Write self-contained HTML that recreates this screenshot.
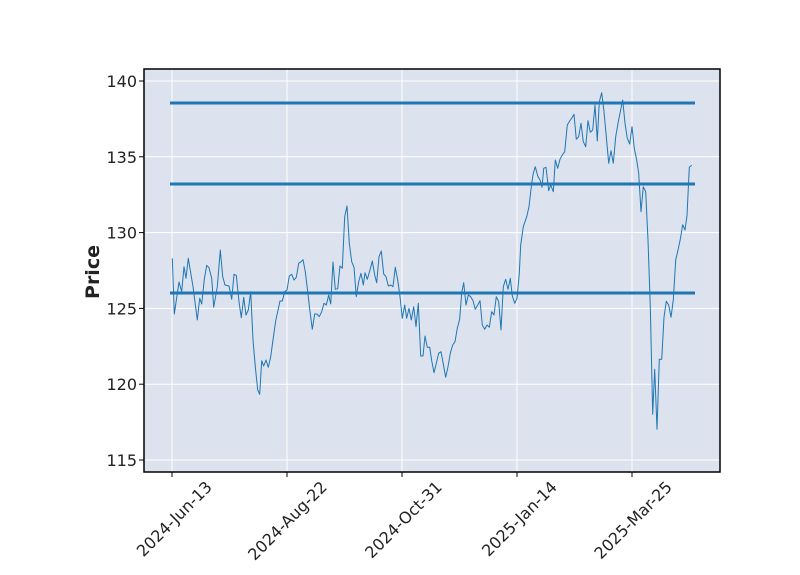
<!DOCTYPE html>
<html><head><meta charset="utf-8"><style>body{margin:0;background:#fff}svg{display:block}</style></head>
<body>
<svg width="800" height="575" xmlns="http://www.w3.org/2000/svg" font-family="DejaVu Sans, Liberation Sans, sans-serif">
<rect x="144" y="69" width="576" height="403" fill="#dce2ee"/>
<g stroke="#fff" stroke-width="1">
<line x1="172" y1="69" x2="172" y2="472"/><line x1="287" y1="69" x2="287" y2="472"/><line x1="402" y1="69" x2="402" y2="472"/><line x1="517" y1="69" x2="517" y2="472"/><line x1="632" y1="69" x2="632" y2="472"/>
<line x1="144" y1="81" x2="720" y2="81"/><line x1="144" y1="156.8" x2="720" y2="156.8"/><line x1="144" y1="232.6" x2="720" y2="232.6"/><line x1="144" y1="308.4" x2="720" y2="308.4"/><line x1="144" y1="384.2" x2="720" y2="384.2"/><line x1="144" y1="460" x2="720" y2="460"/>
</g>
<polyline fill="none" stroke="#1f77b4" stroke-width="1" stroke-linejoin="round" points="172.3,258.3 174.3,314 179,282 181.7,291.7 184,266.7 186,278.3 188.3,258.3 193,286.7 197.3,320 199.7,298.3 201.7,304 204.3,279.3 206.7,265.3 209,267.7 211.7,278.3 213.7,307.3 217.3,286.7 220.3,250 222.7,276.7 225,285 229,286 231.7,299.3 234,274.3 236.3,275.3 239,301.7 241.3,317.7 243.7,297.3 246,315 248.3,310 250.7,291.7 253,340 255.3,366.7 257.7,390 259.7,394.3 261.7,360.7 263.7,366 266,360 268.3,367.3 270.7,356.7 273,340 275.7,320.7 277.7,311.7 280,301 282.3,301 284.7,291.7 287,290 289.3,276 291.7,274.3 294,280 296.3,277.3 298.7,263.3 301,261.7 303,259.7 305.3,271.7 307.7,291.7 310,311.7 312.3,329.3 314.7,314 317,314 319.3,316.7 321.7,311.7 324,303.3 326.3,305 328.7,295 330.7,304 333,262 335.3,289.3 337.7,288.7 340,266 342.3,268.3 344.7,216.7 347,206 349.3,243.3 351.7,261.7 354,267.3 356.3,296.7 358.7,281.7 361,273.3 363.3,285 365,272.7 367.3,279.3 370,270 372.3,261 374.7,275 376.7,282.7 379,256.7 381.3,251 383.7,274 386,276.7 388.3,286 390.7,285 393,286.7 395.3,267.3 397.7,280 400,296.7 402.3,318.3 404.7,305 406.7,318.3 409,308.3 411.3,320 413.7,306.7 416,326.7 418.3,303.3 420.7,356 423,356 425,336 427.3,347.3 429.7,347.3 431.7,360.7 434,372.7 436.3,363.3 438.7,353.3 441,351.7 443.3,364 445.7,377.3 448,366.7 450.3,353.3 452.7,345 455,341.7 457.3,328.3 459.7,319 461.7,292.7 463.7,282.7 466,305 468.3,295 470.7,296.7 473,300.7 475.3,309.3 477.7,305 480,300.7 482.3,325 484.7,329.3 487,325 489.3,327.3 491.7,311.7 494,315 496.3,296.7 498.7,301.7 501,330 503.3,286.7 505.7,279.3 508,289.3 510.3,278.3 512.3,296 514.7,303.3 517,298.3 519.3,273.3 520.7,245 523.3,226.7 526.7,216.7 529,206.7 531.7,183.3 533.3,173.3 535.3,166.7 537.7,176 540,180 542,187.3 543.7,168.3 546,167.3 548.7,190.7 550.7,185 553.3,191.7 555.3,160 557.7,168.3 560,159.3 562.3,155 564.7,151.7 567.3,125 569.7,121 572,117.7 574,114.3 576.3,139.3 578.7,136.7 581,123.3 583.3,141.7 585.7,146.7 588,120.7 590.3,132.3 592.7,130 595,105 597.3,141 599.3,101.7 601.7,92.7 604,111.7 606.3,136.7 608.7,163.3 611,150.7 613.3,163.3 615.7,136.7 618,123.3 620.3,111.7 622.7,100 625,123.3 627.3,138.3 629.7,144 632,126.7 634.3,148.3 636.7,160 638.7,173.3 641,211.7 643.3,186.7 645.7,191.7 648,240 650.3,306.7 652.7,414.3 654.7,369.3 657,429.3 659.3,359.3 661.7,359.3 664,317.3 666.3,301.3 668.7,305 671,317.3 673.3,300 675.7,260 678,250 680.3,239.3 682.7,224.7 685,230 687,215.7 689.3,167.3 691.7,165.3"/>
<g stroke="#1f77b4" stroke-width="3">
<line x1="170" y1="103" x2="695" y2="103"/><line x1="170" y1="184" x2="695" y2="184"/><line x1="170" y1="293" x2="695" y2="293"/>
</g>
<rect x="144" y="69" width="576" height="403" fill="none" stroke="#000" stroke-width="1.5"/>
<g stroke="#000" stroke-width="1">
<line x1="139" y1="81" x2="144" y2="81"/><line x1="139" y1="156.8" x2="144" y2="156.8"/><line x1="139" y1="232.6" x2="144" y2="232.6"/><line x1="139" y1="308.4" x2="144" y2="308.4"/><line x1="139" y1="384.2" x2="144" y2="384.2"/><line x1="139" y1="460" x2="144" y2="460"/>
<line x1="172" y1="472" x2="172" y2="477"/><line x1="287" y1="472" x2="287" y2="477"/><line x1="402" y1="472" x2="402" y2="477"/><line x1="517" y1="472" x2="517" y2="477"/><line x1="632" y1="472" x2="632" y2="477"/>
</g>
<g font-size="16" fill="#222" text-anchor="end">
<text x="137" y="87">140</text><text x="137" y="162.8">135</text><text x="137" y="238.6">130</text><text x="137" y="314.4">125</text><text x="137" y="390.2">120</text><text x="137" y="466">115</text>
<text transform="translate(213,488) rotate(-45)">2024-Jun-13</text>
<text transform="translate(328,488) rotate(-45)">2024-Aug-22</text>
<text transform="translate(443,488) rotate(-45)">2024-Oct-31</text>
<text transform="translate(558,488) rotate(-45)">2025-Jan-14</text>
<text transform="translate(673,488) rotate(-45)">2025-Mar-25</text>
</g>
<text transform="translate(99,272) rotate(-90)" font-size="19" font-weight="bold" fill="#222" text-anchor="middle">Price</text>
</svg>
</body></html>
